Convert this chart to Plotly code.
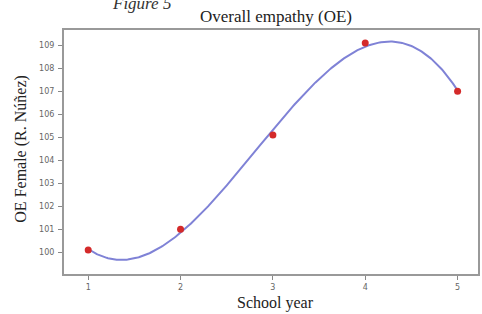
import numpy as np
import plotly.graph_objects as go

school_year = [1, 2, 3, 4, 5]
oe_female = [100.1, 101.0, 105.1, 109.1, 107.0]
x_ticks = [1, 2, 3, 4, 5]
y_ticks = [100, 101, 102, 103, 104, 105, 106, 107, 108, 109]

# cubic trend curve fitted to the points
coef = np.polyfit(school_year, oe_female, 3)
xs = np.linspace(min(school_year), max(school_year), 300)
ys = np.polyval(coef, xs)

fig = go.Figure()
fig.add_trace(go.Scatter(x=xs, y=ys, mode="lines",
                         line=dict(color="#7f82d6", width=2), hoverinfo="skip"))
fig.add_trace(go.Scatter(x=school_year, y=oe_female, mode="markers",
                         marker=dict(color="#d42a2a", size=7)))

serif = "Liberation Serif"
fig.update_layout(
    width=482, height=314,
    margin=dict(l=64, r=2, t=30, b=40),
    paper_bgcolor="white", plot_bgcolor="white",
    showlegend=False,
    font=dict(family=serif, color="#222"),
    annotations=[
        dict(text="<i>Figure 5</i>", xref="paper", yref="paper",
             x=0.112, y=1.156, xanchor="left", yanchor="top",
             showarrow=False, font=dict(size=17, family=serif, color="#333")),
        dict(text="Overall empathy (OE)", xref="paper", yref="paper",
             x=0.512, y=1.057, xanchor="center", yanchor="middle",
             showarrow=False, font=dict(size=17, family=serif, color="#222")),
        dict(text="School year", xref="paper", yref="paper",
             x=0.512, y=-0.117, xanchor="center", yanchor="middle",
             showarrow=False, font=dict(size=16, family=serif, color="#222")),
        dict(text="OE Female (R. Núñez)", xref="paper", yref="paper",
             x=-0.106, y=0.514, xanchor="center", yanchor="middle", textangle=-90,
             showarrow=False, font=dict(size=16, family=serif, color="#222")),
    ],
)
fig.update_xaxes(range=[0.738, 5.221], tickvals=x_ticks, ticks="outside", ticklen=4,
                 tickcolor="#888", tickfont=dict(size=8, color="#666", family="DejaVu Sans"),
                 ticklabelstandoff=0,
                 showgrid=False, zeroline=False, showline=True, linecolor="#999",
                 linewidth=2, mirror=True)
fig.update_yaxes(range=[99.05, 109.67], tickvals=y_ticks, ticks="outside", ticklen=4,
                 tickcolor="#888", tickfont=dict(size=8, color="#666", family="DejaVu Sans"),
                 ticklabelstandoff=2,
                 showgrid=False, zeroline=False, showline=True, linecolor="#999",
                 linewidth=2, mirror=True)
fig.write_html("out.html", config={"displayModeBar": False},
               post_script="document.body.style.margin='0';document.body.style.overflow='hidden';")
